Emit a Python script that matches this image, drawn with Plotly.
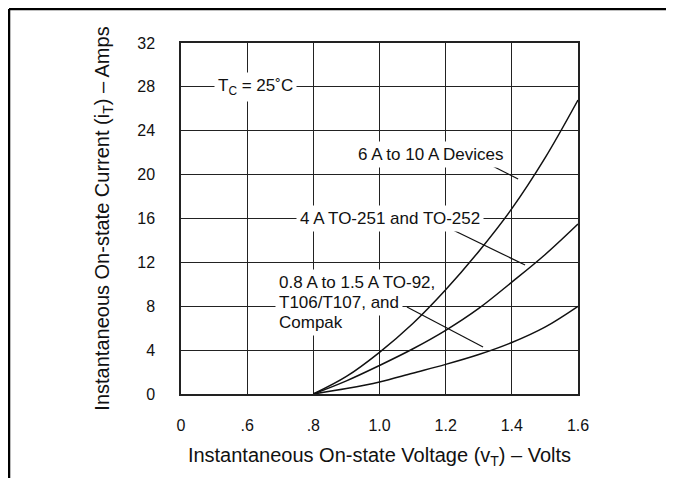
import plotly.graph_objects as go

# on-state characteristics
v_t = [0.8, 0.9, 1.0, 1.1, 1.2, 1.3, 1.4, 1.5, 1.6]
i_6a_10a = [0, 1.6, 3.8, 6.4, 9.5, 13.0, 16.9, 21.5, 26.8]
i_4a = [0, 1.2, 2.6, 4.1, 5.8, 7.8, 10.2, 12.7, 15.5]
i_08a_15a = [0, 0.5, 1.1, 1.9, 2.7, 3.6, 4.7, 6.1, 8.0]

# x axis is broken: first gridline is labelled 0
x_tickvals = [0.4, 0.6, 0.8, 1.0, 1.2, 1.4, 1.6]
x_ticktext = ['0', '.6', '.8', '1.0', '1.2', '1.4', '1.6']
y_tickvals = [0, 4, 8, 12, 16, 20, 24, 28, 32]

# leader lines from labels to curves: (x0, y0, x1, y1)
leaders = [
    (1.334, 20.9, 1.419, 19.6),
    (1.222, 14.95, 1.440, 11.76),
    (1.083, 7.93, 1.313, 4.28),
]

FONT = 'Liberation Sans, Arial, Helvetica'

fig = go.Figure()
for ys in (i_6a_10a, i_4a, i_08a_15a):
    fig.add_trace(go.Scatter(x=v_t, y=ys, mode='lines', line_shape='spline',
                             line=dict(color='#111', width=1.5), showlegend=False,
                             hoverinfo='skip'))

for x0, y0, x1, y1 in leaders:
    fig.add_shape(type='line', x0=x0, y0=y0, x1=x1, y1=y1, xref='x', yref='y',
                  line=dict(color='#111', width=1.2))

# outer frame (top and left edges only), stopping at the window edges
fig.add_shape(type='line', xref='paper', yref='paper', x0=-0.4332, x1=1.24, y0=1.0969, y1=1.0969,
              line=dict(color='black', width=2.5))
fig.add_shape(type='line', xref='paper', yref='paper', x0=-0.4332, x1=-0.4332, y0=1.0969, y1=-0.27,
              line=dict(color='black', width=2.5))

def label(text, x, y, xanchor='center'):
    fig.add_annotation(x=x, y=y, text=text, showarrow=False, xanchor=xanchor, yanchor='middle',
                       bgcolor='white', borderpad=3, font=dict(size=17, color='#111', family=FONT))

label('T<sub>C</sub> = 25˚C', 0.624, 28)
label('6 A to 10 A Devices', 1.156, 21.8)
label('4 A TO-251 and TO-252', 1.032, 16)
label('0.8 A to 1.5 A TO-92,', 0.684, 10.17, 'left')
label('T106/T107, and', 0.684, 8.34, 'left')
label('Compak', 0.684, 6.56, 'left')

# page body has an 8px margin: figure is offset/sized so nothing overflows
fig.update_layout(
    width=658, height=470,
    margin=dict(l=173, r=88, t=35, b=84),
    paper_bgcolor='white', plot_bgcolor='white',
    font=dict(family=FONT, size=16, color='#111'),
    xaxis=dict(range=[0.4, 1.6], tickvals=x_tickvals, ticktext=x_ticktext,
               showgrid=True, gridcolor='#222', gridwidth=1.2,
               showline=True, linecolor='#222', linewidth=1.5, mirror=True,
               zeroline=False, ticks='', ticklabelstandoff=16,
               title=dict(text='Instantaneous On-state Voltage (v<sub>T</sub>) – Volts',
                          font=dict(size=20), standoff=15)),
    yaxis=dict(range=[0, 32], tickvals=y_tickvals,
               showgrid=True, gridcolor='#222', gridwidth=1.2,
               showline=True, linecolor='#222', linewidth=1.5, mirror=True,
               zeroline=False, ticks='', ticklabelstandoff=21,
               title=dict(text='Instantaneous On-state Current (i<sub>T</sub>) – Amps',
                          font=dict(size=20), standoff=22)),
)

fig.write_html("out.html")
